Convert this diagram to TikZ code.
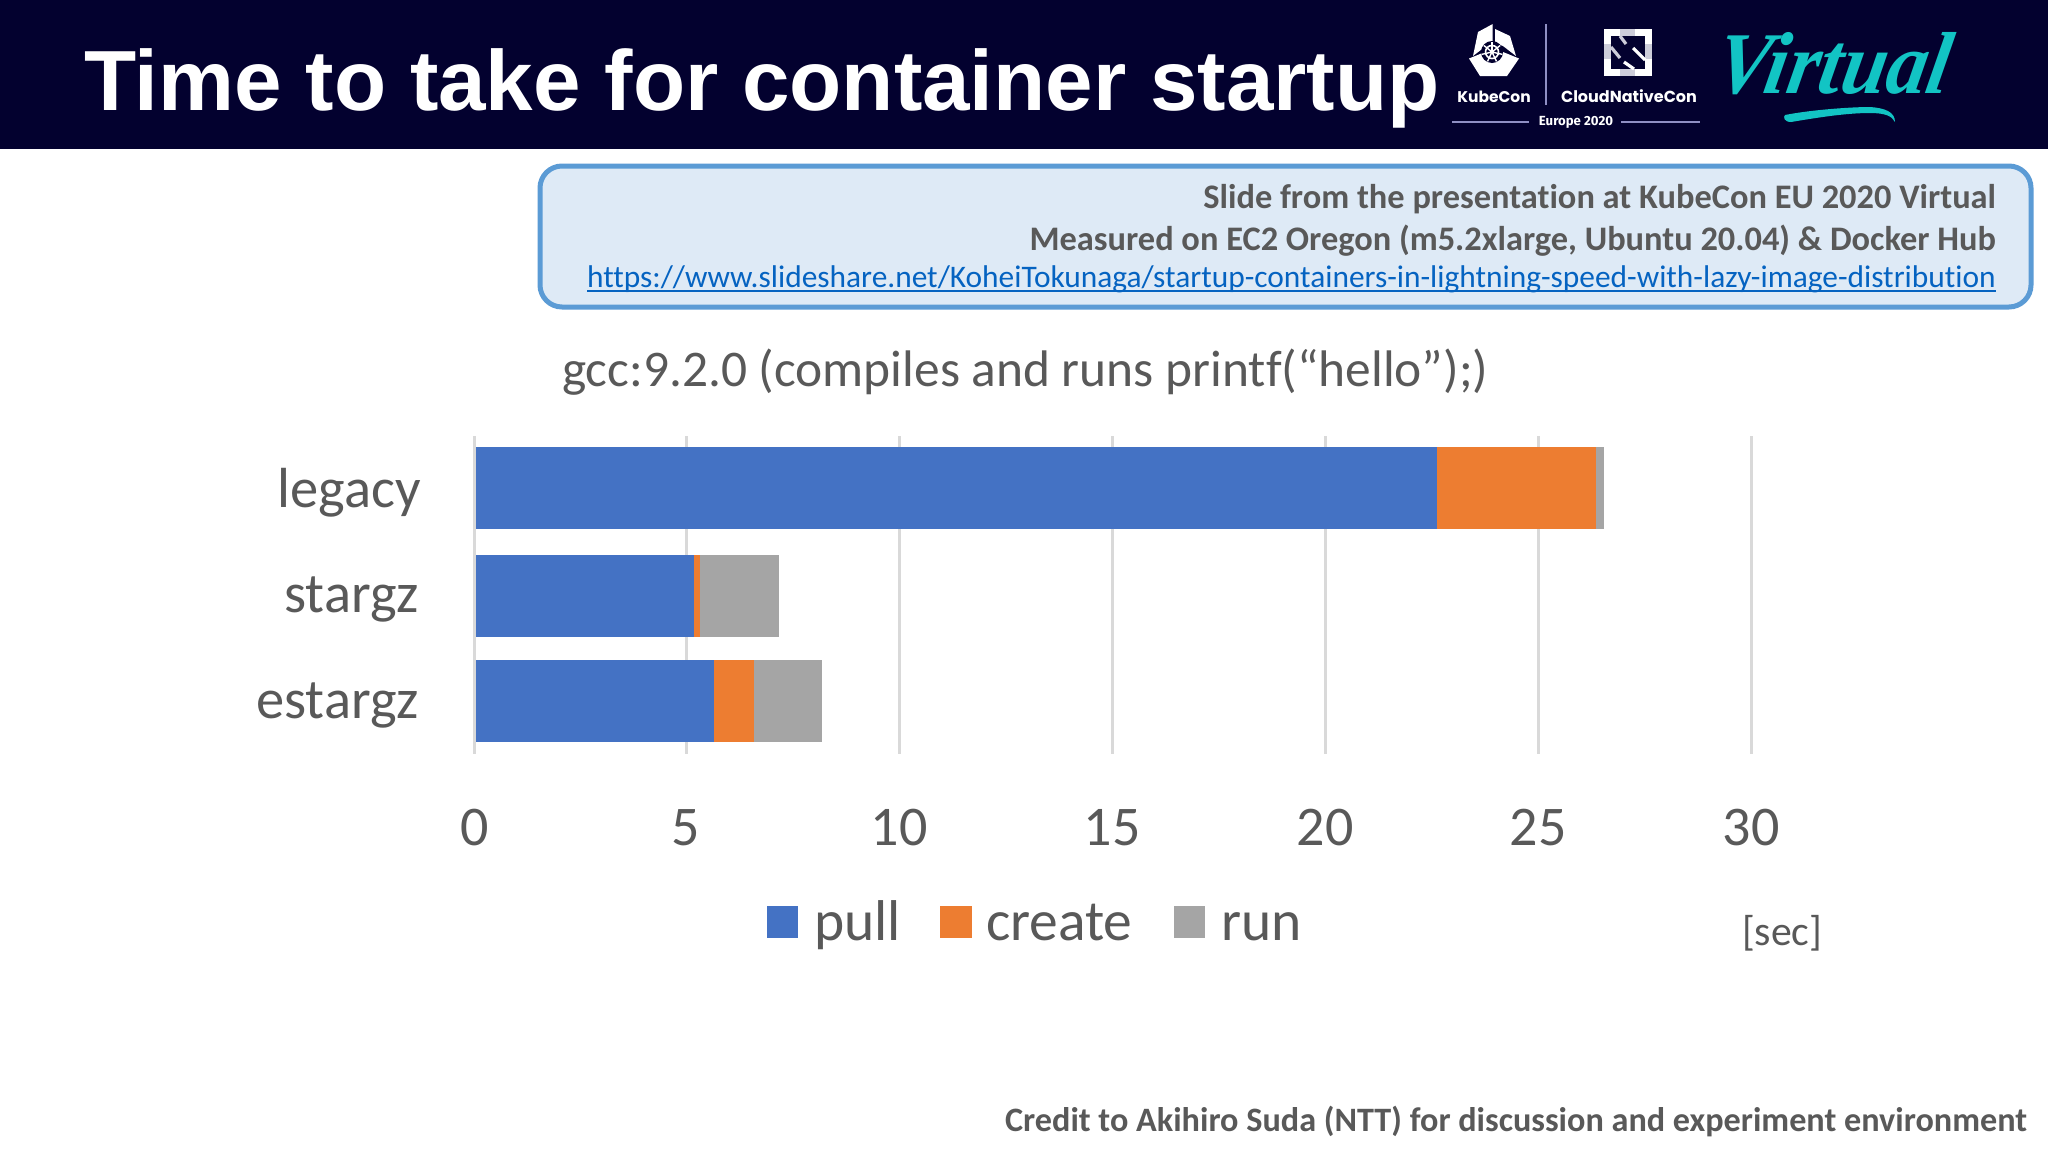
\documentclass[tikz,border=0pt]{standalone}
\usepackage{fontspec}
\setmainfont{Carlito}[Ligatures={TeX,NoCommon}]
\newfontfamily\titlefont{Liberation Sans}
\newfontfamily\logofont{Poppins}
\newfontfamily\eufont{Fira Sans}
\newfontfamily\virtfont{Liberation Serif}
\definecolor{navy}{HTML}{03012F}
\definecolor{pullc}{HTML}{4472C4}
\definecolor{createc}{HTML}{ED7D31}
\definecolor{runc}{HTML}{A5A5A5}
\definecolor{gridc}{HTML}{D9D9D9}
\definecolor{txt}{HTML}{595959}
\definecolor{boxf}{HTML}{DEEAF6}
\definecolor{boxd}{HTML}{5B9BD5}
\definecolor{linkc}{HTML}{0563C1}
\definecolor{teal1}{HTML}{12C4C4}
\definecolor{logol}{HTML}{8F8FC4}
\definecolor{logog}{HTML}{CDCDDA}
\tikzset{
  lab/.style={inner sep=0pt,outer sep=0pt,text=txt},
  chartfont/.style={lab,font=\fontsize{#1}{#1}\selectfont},
  ticklab/.style={chartfont=56,anchor=base},
  catlab/.style={chartfont=56.5,anchor=base east},
  leglab/.style={chartfont=57.5,anchor=base west},
  notelab/.style={lab,anchor=base east,font=\bfseries\fontsize{34.4}{34.4}\selectfont},
  logolab/.style={inner sep=0pt,text=white,anchor=base,font=\logofont\bfseries\fontsize{#1}{#1}\selectfont},
  gridl/.style={draw=gridc,line width=3pt},
  logoline/.style={draw=logol,line width=1.4pt},
  cncfa/.style={white,line width=3.2pt},
  cncfb/.style={logog,line width=3.2pt},
}
\begin{document}
\begin{tikzpicture}[x=1pt,y=-1pt]
\useasboundingbox (0,0) rectangle (2048,1152);
\fill[white] (0,0) rectangle (2048,1152);
\fill[navy] (0,0) rectangle (2048,149);
\node[inner sep=0pt,anchor=base west,text=white,font=\titlefont\bfseries\fontsize{85.4}{85.4}\selectfont] (title) at (84,110) {Time to take for container startup};
% KubeCon logo
\fill[white] (1492.7,24) -- (1492.7,43) -- (1486,46) -- (1473,56) -- (1478,32) -- cycle;
\fill[white] (1495,29) -- (1510,36) -- (1516,56) -- (1503,46) -- (1495,43) -- cycle;
\fill[white] (1469,58.5) -- (1485,52) -- (1492,62) -- (1503,52) -- (1519,58.5) -- (1507,76) -- (1480,76) -- cycle;
\fill[navy] (1492,52) circle (11);
\draw[white,line width=1.6pt] (1492,52) circle (6.5);
\fill[white] (1492,52) circle (2.2);
\foreach \a in {-90,-38.6,13,64.3,115.7,167,218.6}{\draw[white,line width=1.4pt] (1492,52) -- ++(\a:10.5);}
\node[logolab=15.5] (kubecon) at (1494,102) {KubeCon};
\node[logolab=16] (cnc) at (1629,102) {CloudNativeCon};
\node[inner sep=0pt,text=white,anchor=base,font=\eufont\bfseries\fontsize{13.2}{13.2}\selectfont] (europe) at (1576,125) {Europe 2020};
\coordinate (v1) at (1546,24); \coordinate (v2) at (1546,105);
\draw[logoline] (v1) -- (v2);
\coordinate (l1) at (1452,122); \coordinate (l2) at (1529,122);
\coordinate (l3) at (1621,122); \coordinate (l4) at (1700,122);
\draw[logoline] (l1) -- (l2);
\draw[logoline] (l3) -- (l4);
% CNCF logo
\fill[white] (1604,29) rectangle (1652,76);
\fill[navy] (1611,36) rectangle (1645,69);
\fill[logog] (1620,29) rectangle (1635,36);
\fill[logog] (1620,69) rectangle (1635,76);
\fill[logog] (1604,44) rectangle (1611,59);
\fill[logog] (1645,44) rectangle (1652,59);
\draw[cncfb] (1620,36) -- (1626,44);
\draw[cncfa] (1633,48) -- (1645,60);
\draw[cncfb] (1611,47) -- (1620,58);
\draw[cncfa] (1624,62) -- (1634,69);
% Virtual
\node[inner sep=0pt,text=teal1,anchor=base,font=\virtfont\bfseries\itshape\fontsize{88}{88}\selectfont,xscale=0.92,xslant=0.2,transform shape] (virtual) at (1829,93) {Virtual};
\fill[teal1] (1785,115) .. controls (1810,110) and (1850,107) .. (1870,107) .. controls (1885,108) and (1895,112) .. (1895,122) .. controls (1892,116) and (1885,113) .. (1870,113) .. controls (1845,113) and (1815,118) .. (1791,122) .. controls (1784,122) and (1783,117) .. (1785,115) -- cycle;
% note box
\draw[fill=boxf,draw=boxd,line width=5pt,rounded corners=22pt] (540,166) rectangle (2031,307);
\node[notelab] (n1) at (1996,208) {Slide from the presentation at KubeCon EU 2020 Virtual};
\node[notelab] (n2) at (1996,250) {Measured on EC2 Oregon (m5.2xlarge, Ubuntu 20.04) \& Docker Hub};
\node[lab,anchor=base east,text=linkc,font=\fontsize{31.4}{31.4}\selectfont] (n3) at (1996,287) {https://www.slideshare.net/KoheiTokunaga/startup-containers-in-lightning-speed-with-lazy-image-distribution};
\draw[linkc,line width=2pt] ([yshift=-4pt]n3.base west) -- ([yshift=-4pt]n3.base east);
% chart title
\node[chartfont=51.4,anchor=base west] (ctitle) at (562,386) {gcc:9.2.0 (compiles and runs printf(“hello”);)};
% grid
\foreach \n/\x in {0/474.5,5/686,10/899,15/1112,20/1325,25/1538,30/1751}{
  \draw[gridl] (\x,436) -- (\x,754);
  \node[ticklab] (t\n) at (\x,845) {\n};
}
% bars
\fill[pullc] (476,447) rectangle (1437,529);
\fill[createc] (1437,447) rectangle (1596,529);
\fill[runc] (1596,447) rectangle (1604,529);
\fill[pullc] (476,555) rectangle (694,637);
\fill[createc] (694,555) rectangle (700,637);
\fill[runc] (700,555) rectangle (779,637);
\fill[pullc] (476,660) rectangle (714,742);
\fill[createc] (714,660) rectangle (754,742);
\fill[runc] (754,660) rectangle (822,742);
\node[catlab] (c1) at (421,507) {legacy};
\node[catlab] (c2) at (419,612) {stargz};
\node[catlab] (c3) at (419,718) {estargz};
% legend
\fill[pullc] (767,906) rectangle (798,938);
\node[leglab] (l-pull) at (814,940) {pull};
\fill[createc] (940,906) rectangle (972,938);
\node[leglab] (l-create) at (986,940) {create};
\fill[runc] (1174,906) rectangle (1205,938);
\node[leglab] (l-run) at (1221,940) {run};
\node[chartfont=41.7,anchor=base west] (sec) at (1742,945) {[sec]};
\node[lab,anchor=base east,font=\bfseries\fontsize{34.2}{34.2}\selectfont] (credit) at (2027,1131) {Credit to Akihiro Suda (NTT) for discussion and experiment environment};
\end{tikzpicture}
\end{document}
